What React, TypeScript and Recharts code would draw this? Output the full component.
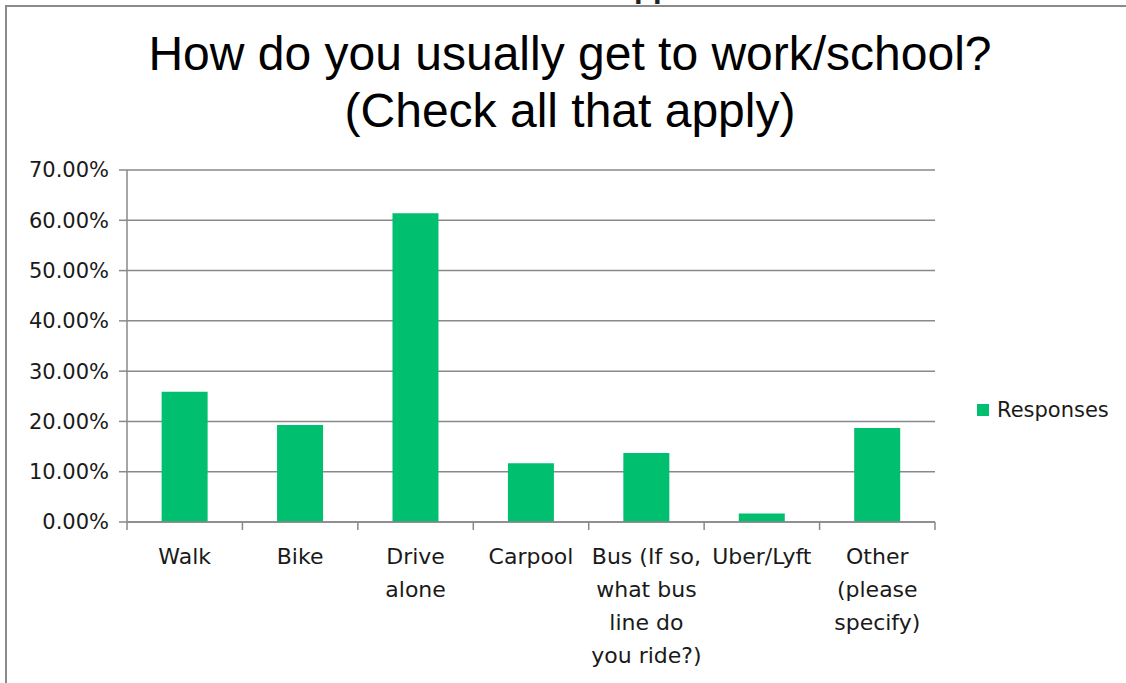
import { BarChart, Bar, XAxis, YAxis, CartesianGrid } from 'recharts'

// Survey question: how people get to work/school (share of respondents, %)
const categories = [
  'Walk',
  'Bike',
  'Drive\nalone',
  'Carpool',
  'Bus (If so,\nwhat bus\nline do\nyou ride?)',
  'Uber/Lyft',
  'Other\n(please\nspecify)',
]
const responses = [25.9, 19.3, 61.4, 11.7, 13.7, 1.7, 18.7]
const yTicks = [0, 10, 20, 30, 40, 50, 60, 70]

const data = categories.map((category, i) => ({ category, Responses: responses[i] }))

const WIDTH = 1126
const HEIGHT = 683
const Y_AXIS_W = 100
const X_AXIS_H = 150
const MARGIN = { top: 170, right: 191, bottom: 11, left: 27 }
const PLOT_W = WIDTH - MARGIN.left - Y_AXIS_W - MARGIN.right
const BAND = PLOT_W / categories.length
const TICK = 8

const GREEN = '#00BF6F'
const GRID = '#898989'
const FONT = '"DejaVu Sans", sans-serif'

function XTick(props: any) {
  const { x, y, payload, index } = props
  const lines = String(payload.value).split('\n')
  const axisY = y - TICK
  const last = index === categories.length - 1
  return (
    <g>
      <line x1={x - BAND / 2} x2={x - BAND / 2} y1={axisY} y2={axisY + TICK} stroke={GRID} strokeWidth={1.5} />
      {last && (
        <line x1={x + BAND / 2} x2={x + BAND / 2} y1={axisY} y2={axisY + TICK} stroke={GRID} strokeWidth={1.5} />
      )}
      <text x={x} y={axisY + 42} textAnchor="middle" fill="#1a1a1a" fontSize={22} fontFamily={FONT}>
        {lines.map((line, i) => (
          <tspan key={i} x={x} dy={i === 0 ? 0 : 33}>
            {line}
          </tspan>
        ))}
      </text>
    </g>
  )
}

export default function App() {
  return (
    <div
      style={{
        position: 'fixed',
        left: 0,
        top: 0,
        width: WIDTH,
        height: HEIGHT,
        overflow: 'hidden',
        background: '#fff',
      }}
    >
      {/* clipped text from the sheet above */}
      <span
        style={{
          position: 'absolute',
          left: 634,
          top: -29,
          fontFamily: '"Liberation Sans", Arial, sans-serif',
          fontWeight: 700,
          fontSize: 31,
          lineHeight: '31px',
          color: '#222',
        }}
      >
        pp
      </span>
      <div
        style={{
          position: 'absolute',
          left: 5,
          top: 5,
          width: 1300,
          height: 900,
          borderTop: '2px solid #8a8a8a',
          borderLeft: '2px solid #8a8a8a',
        }}
      />
      <div
        style={{
          position: 'absolute',
          left: 0,
          top: 25,
          width: 1140,
          textAlign: 'center',
          fontFamily: '"Liberation Sans", Arial, sans-serif',
          fontSize: 48,
          lineHeight: '57px',
          color: '#000',
        }}
      >
        How do you usually get to work/school?
        <br />
        (Check all that apply)
      </div>
      <div style={{ position: 'absolute', left: 0, top: 0 }}>
        <BarChart width={WIDTH} height={HEIGHT} data={data} margin={MARGIN} barCategoryGap="30%">
          <CartesianGrid vertical={false} stroke={GRID} strokeWidth={1.5} />
          <XAxis
            dataKey="category"
            interval={0}
            height={X_AXIS_H}
            axisLine={{ stroke: GRID, strokeWidth: 1.5 }}
            tickLine={false}
            tickSize={TICK}
            tickMargin={0}
            tick={<XTick />}
          />
          <YAxis
            width={Y_AXIS_W}
            domain={[0, 70]}
            ticks={yTicks}
            interval={0}
            tickFormatter={(v: number) => `${v.toFixed(2)}%`}
            axisLine={{ stroke: GRID, strokeWidth: 1.5 }}
            tickLine={{ stroke: GRID, strokeWidth: 1.5 }}
            tickSize={TICK}
            tickMargin={10}
            tick={{ fill: '#1a1a1a', fontSize: 21, fontFamily: FONT }}
          />
          <Bar dataKey="Responses" fill={GREEN} isAnimationActive={false} />
        </BarChart>
      </div>
      {/* Legend */}
      <div
        style={{
          position: 'absolute',
          left: 977,
          top: 398,
          display: 'flex',
          alignItems: 'center',
          fontFamily: FONT,
          fontSize: 21,
          color: '#1a1a1a',
        }}
      >
        <span style={{ width: 12, height: 12, background: GREEN, marginRight: 8, display: 'inline-block' }} />
        <span>Responses</span>
      </div>
    </div>
  )
}
